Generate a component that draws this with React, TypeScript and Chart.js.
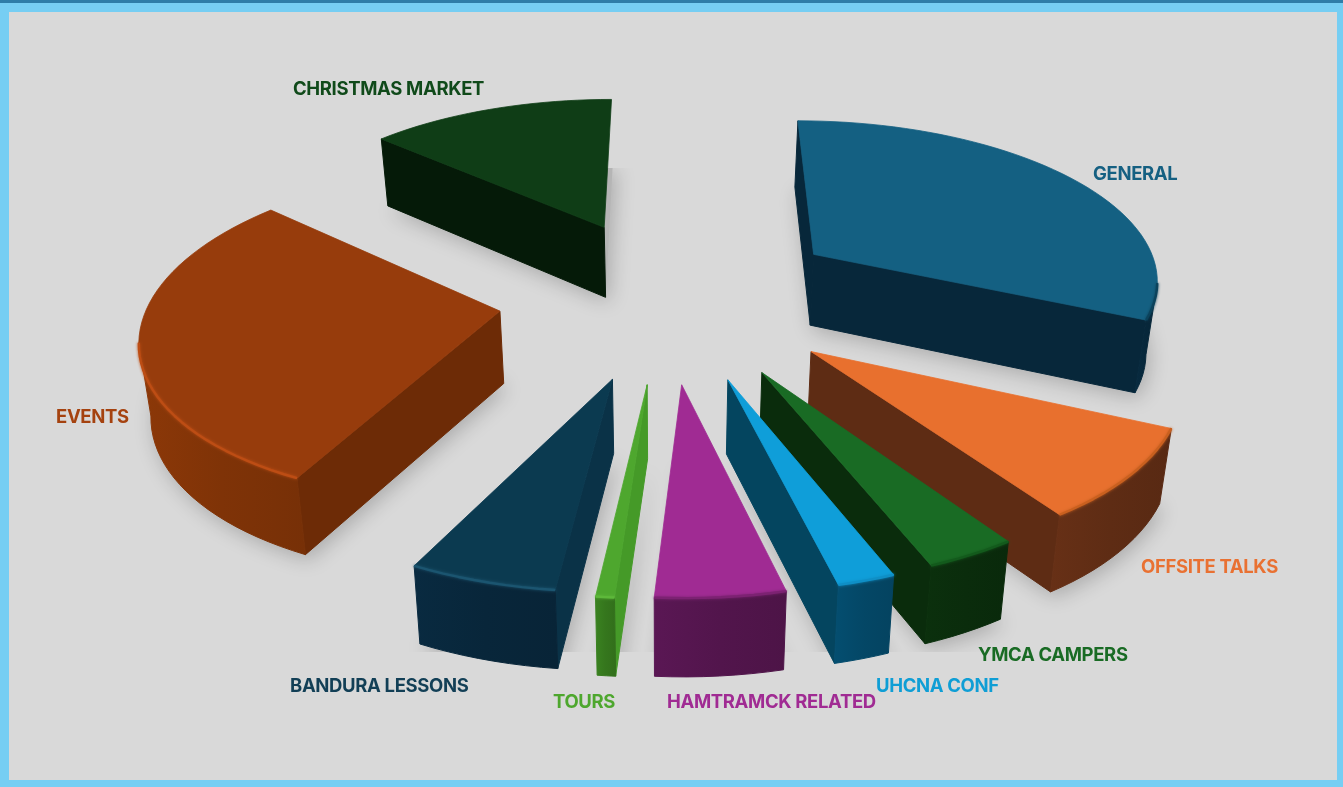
import React, { useEffect, useRef } from "react";
import { Chart, registerables } from "chart.js";

Chart.register(...registerables);

// Data (share of the whole, in %)
const categories = ["GENERAL", "OFFSITE TALKS", "YMCA CAMPERS", "UHCNA CONF", "HAMTRAMCK RELATED", "TOURS", "BANDURA LESSONS", "EVENTS", "CHRISTMAS MARKET"];
const shares = [31.8, 8.7, 3.5, 2.2, 4.9, 0.7, 5.6, 29.2, 13.4];

// Styles
const topColors = ["#146082", "#E8702E", "#196B24", "#0F9ED9", "#A02B93", "#4EA72E", "#0B3A50", "#973C0C", "#0F3D16"];
const sideColors = ["#07273A", "#5E2C14", "#0A2C0C", "#04455F", "#52154C", "#459A28", "#0A3247", "#6D2B06", "#051A08"];
const outerColors = ["#07273A", "#5E2C14", "#0A2C0C", "#044766", "#52154C", "#35761D", "#08263A", "#7F3307", "#051A08"];
const rimColors = ["#0C435C", "#C9601F", "#135A1C", "#0F8FC6", "#7C2272", "#5DB83A", "#1B5570", "#BD4D14", "#0F3D16"];
const labelColors = ["#156082", "#E97132", "#196B24", "#0F9ED5", "#A02B93", "#4EA72E", "#123F56", "#A5420F", "#104A1A"];
const labelAnchors = [[1093, 174], [1141, 567], [978, 655], [876, 686], [667, 702], [553, 702], [290, 686], [56, 417], [293, 89]];
// Small per-slice screen shifts of the exploded pieces, in px
const sliceShift = [[8, -4], [8, -2], [11, -2], [7, -1], [1, 0], [-1, 0], [0, -2], [7, -4], [6, -4]];
// Vertical range each slice's ground shadow is cut to
const shadowRange = [[0, 787], [0, 787], [0, 652], [0, 652], [0, 652], [0, 652], [0, 652], [0, 787], [168, 787]];

// Camera that tilts the flat pie into the reference's perspective
const cam = { cx: 665, cy: 300, bx: 350, ay: 161, p: 0.13, shrink: 0.977 };
const top3d = (i: number, x: number, y: number) => {
  const w = 1 - cam.p * y;
  return [cam.cx + (cam.bx * x) / w + sliceShift[i][0], cam.cy + (cam.ay * y) / w + sliceShift[i][1]];
};
const bot3d = (i: number, x: number, y: number) => {
  const [sx, sy] = top3d(i, x, y);
  return [cam.cx + (sx - cam.cx) * cam.shrink, sy + 72 + 4.5 * y];
};
const shade = (hex: string, f: number) => {
  const n = parseInt(hex.slice(1), 16);
  const c = [(n >> 16) & 255, (n >> 8) & 255, n & 255].map((v) => Math.min(255, Math.round(v * f)));
  return `rgb(${c[0]},${c[1]},${c[2]})`;
};
const poly = (ctx: CanvasRenderingContext2D, pts: number[][]) => {
  ctx.beginPath();
  pts.forEach((p, i) => (i ? ctx.lineTo(p[0], p[1]) : ctx.moveTo(p[0], p[1])));
  ctx.closePath();
};

const pie3d = {
  id: "pie3d",
  beforeDatasetsDraw(chart: any) {
    const ctx: CanvasRenderingContext2D = chart.ctx;
    const arcs = chart.getDatasetMeta(0).data;
    const slices = arcs.map((arc: any, i: number) => {
      const { startAngle, endAngle, outerRadius } = arc.getProps(["startAngle", "endAngle", "outerRadius"], true);
      const e = arc.options.offset / outerRadius;
      const mid = (startAngle + endAngle) / 2;
      const ax = e * Math.cos(mid);
      const ay = e * Math.sin(mid);
      const world: number[][] = [];
      const n = Math.max(2, Math.ceil((endAngle - startAngle) / 0.04));
      for (let k = 0; k <= n; k++) {
        const a = startAngle + ((endAngle - startAngle) * k) / n;
        world.push([ax + Math.cos(a), ay + Math.sin(a)]);
      }
      return { i, ax, ay, world };
    });

    ctx.save();
    // soft ground shadows
    slices.forEach((s: any) => {
      const pts = [[s.ax, s.ay], ...s.world].map((p: number[]) => bot3d(s.i, p[0], p[1]));
      ctx.save();
      ctx.beginPath();
      ctx.rect(0, shadowRange[s.i][0], 1343, shadowRange[s.i][1] - shadowRange[s.i][0]);
      ctx.clip();
      ctx.shadowColor = "rgba(0,0,0,0.22)";
      ctx.shadowBlur = 20;
      ctx.shadowOffsetY = 5;
      ctx.shadowOffsetX = 3;
      ctx.fillStyle = "#b5b5b5";
      poly(ctx, pts);
      ctx.fill();
      ctx.restore();
    });

    // back to front
    [...slices]
      .sort((a: any, b: any) => a.ay - b.ay)
      .forEach((s: any) => {
        const ring = [[s.ax, s.ay], ...s.world];
        const last = ring.length - 1;
        const m = ring.length;
        const curved: number[][] = [];
        ctx.lineJoin = "round";
        ctx.lineWidth = 1;
        for (let k = 0; k < m; k++) {
          const a = ring[k];
          const b = ring[(k + 1) % m];
          const ta = top3d(s.i, a[0], a[1]);
          const tb = top3d(s.i, b[0], b[1]);
          const dx = tb[0] - ta[0];
          if (dx >= 0) continue;
          const isRadial = k === 0 || k === last;
          if (isRadial) {
            if (dx > -10) continue; // edge-on wall
            ctx.fillStyle = sideColors[s.i];
            ctx.strokeStyle = sideColors[s.i];
            poly(ctx, [ta, tb, bot3d(s.i, b[0], b[1]), bot3d(s.i, a[0], a[1])]);
            ctx.fill();
            ctx.stroke();
          } else {
            if (!curved.length) curved.push(a);
            curved.push(b);
          }
        }
        // curved outer wall as one smooth strip
        let rim: number[][] = [];
        if (curved.length > 1) {
          rim = curved.map((p) => top3d(s.i, p[0], p[1]));
          const low = curved.map((p) => bot3d(s.i, p[0], p[1])).reverse();
          const strip = [...rim, ...low];
          const xs = strip.map((p) => p[0]);
          const g = ctx.createLinearGradient(Math.min(...xs), 0, Math.max(...xs), 0);
          g.addColorStop(0, shade(outerColors[s.i], 1.1));
          g.addColorStop(0.5, shade(outerColors[s.i], 1));
          g.addColorStop(1, shade(outerColors[s.i], 0.94));
          ctx.fillStyle = g;
          ctx.strokeStyle = g;
          poly(ctx, strip);
          ctx.fill();
          ctx.stroke();
        }
        // top face
        poly(ctx, ring.map((p: number[]) => top3d(s.i, p[0], p[1])));
        ctx.fillStyle = topColors[s.i];
        ctx.strokeStyle = topColors[s.i];
        ctx.lineWidth = 0.8;
        ctx.fill();
        ctx.stroke();
        // bevel rim only where the curved wall shows below the top face
        if (rim.length > 1) {
          ctx.save();
          ctx.strokeStyle = rimColors[s.i];
          ctx.shadowColor = rimColors[s.i];
          ctx.shadowBlur = 3;
          ctx.lineWidth = 2.4;
          ctx.beginPath();
          rim.forEach((p, k) => (k ? ctx.lineTo(p[0], p[1]) : ctx.moveTo(p[0], p[1])));
          ctx.stroke();
          ctx.restore();
        }
      });
    ctx.restore();
    return false;
  },
  afterDraw(chart: any) {
    const ctx: CanvasRenderingContext2D = chart.ctx;
    ctx.save();
    ctx.font = '700 18.5px Inter, "Open Sans", sans-serif';
    (ctx as any).letterSpacing = "-0.35px";
    ctx.textBaseline = "middle";
    ctx.textAlign = "left";
    chart.data.labels.forEach((label: string, i: number) => {
      ctx.fillStyle = labelColors[i];
      ctx.fillText(label, labelAnchors[i][0], labelAnchors[i][1]);
    });
    ctx.restore();
  },
};

export default function App() {
  const ref = useRef<HTMLCanvasElement>(null);
  useEffect(() => {
    const chart = new Chart(ref.current!, {
      type: "pie",
      data: {
        labels: categories,
        datasets: [{ data: shares, backgroundColor: topColors, borderWidth: 0, offset: 156 }],
      },
      options: {
        animation: false,
        responsive: false,
        devicePixelRatio: 1,
        layout: { padding: 0 },
        plugins: { legend: { display: false }, tooltip: { enabled: false } },
      },
      plugins: [pie3d],
    } as any);
    return () => chart.destroy();
  }, []);
  return (
    <div style={{ position: "fixed", left: 0, top: 0, width: 1343, height: 787, overflow: "hidden", background: "#76CEF3" }}>
      <div style={{ position: "absolute", left: 0, top: 0, width: 1343, height: 3, background: "#2E7DA8" }} />
      <div style={{ position: "absolute", left: 9, top: 12, width: 1328, height: 768, background: "#D9D9D9" }} />
      <canvas ref={ref} width={1343} height={787} style={{ position: "absolute", left: 0, top: 0, width: 1343, height: 787 }} />
    </div>
  );
}
